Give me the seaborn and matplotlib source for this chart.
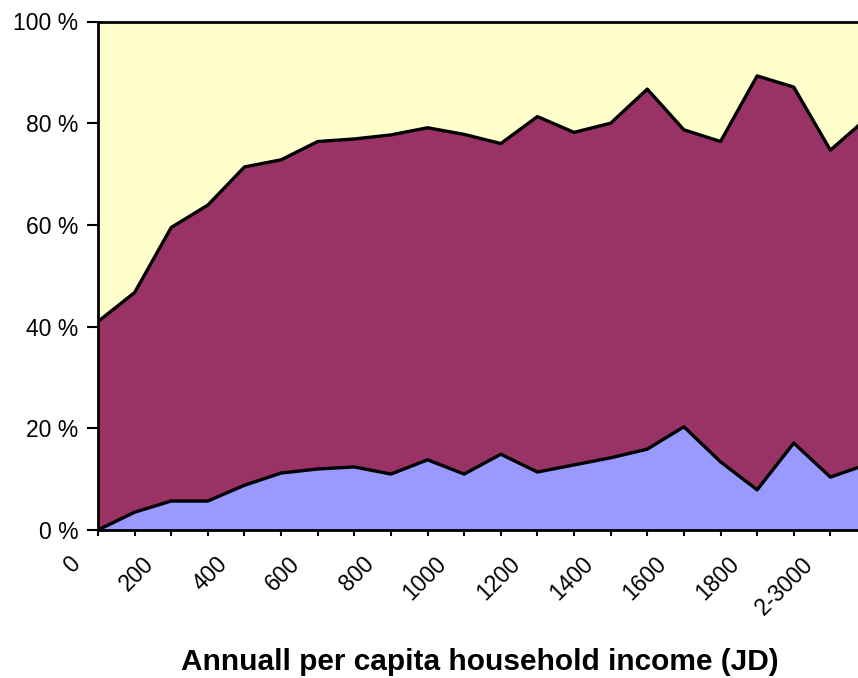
import numpy as np
import pandas as pd
import matplotlib
matplotlib.use("Agg")
import matplotlib.pyplot as plt
import matplotlib.transforms as mtransforms
import seaborn as sns

# Category labels (every 100 JD); last one is cropped off the right edge
categories = ["0", "100", "200", "300", "400", "500", "600", "700", "800", "900",
              "1000", "1100", "1200", "1300", "1400", "1500", "1600", "1700",
              "1800", "1900", "2-3000", ">3000"]
tick_labels_shown = ["0", "200", "400", "600", "800", "1000", "1200", "1400",
                     "1600", "1800", "2-3000"]

# Shares (%) of the three groups, bottom to top
blue_share = [0.0, 3.5, 5.7, 5.7, 8.8, 11.2, 12.0, 12.4, 11.0, 13.8, 11.0,
              14.9, 11.4, 12.8, 14.2, 15.9, 20.3, 13.4, 7.9, 17.1, 10.4, 12.9]
upper_boundary = [41.0, 46.7, 59.5, 63.9, 71.4, 72.8, 76.4, 76.9, 77.7, 79.1, 77.8,
                  76.0, 81.3, 78.2, 80.0, 86.7, 78.7, 76.4, 89.3, 87.1, 74.7, 81.0]
purple_share = [u - b for u, b in zip(upper_boundary, blue_share)]
yellow_share = [100.0 - u for u in upper_boundary]

sns.set_style("white")
plt.rcParams["font.family"] = ["Liberation Sans", "DejaVu Sans"]
plt.rcParams["text.color"] = "black"
plt.rcParams["xtick.color"] = "black"
plt.rcParams["ytick.color"] = "black"

fig = plt.figure(figsize=(8.58, 6.78), dpi=100)
ax = fig.add_axes([98 / 858, 1 - 530 / 678, (867 - 98) / 858, (530 - 21.5) / 678])

x = np.arange(len(categories))
df = pd.DataFrame({"idx": x, "blue": blue_share, "purple": purple_share,
                   "yellow": yellow_share})
df["b1"] = df["blue"]
df["b2"] = df["blue"] + df["purple"]
df["b3"] = df["b2"] + df["yellow"]

ax.fill_between(df["idx"], 0, df["b1"], color="#9999FF", lw=0)
ax.fill_between(df["idx"], df["b1"], df["b2"], color="#993366", lw=0)
ax.fill_between(df["idx"], df["b2"], df["b3"], color="#FFFFCC", lw=0)

for col in ["b1", "b2"]:
    sns.lineplot(data=df, x="idx", y=col, ax=ax, color="black", lw=2.4,
                 legend=False, zorder=5)

ax.set_xlim(0, len(categories) - 1)
ax.set_ylim(0, 100)

ax.tick_params(axis="y", direction="out", length=8, width=1.5, color="black",
               left=True, pad=6)
ax.tick_params(axis="x", direction="out", length=4.5, width=1.5, color="black",
               bottom=True, pad=4)

ax.set_yticks([0, 20, 40, 60, 80, 100])
ax.set_yticklabels([f"{v} %" for v in [0, 20, 40, 60, 80, 100]], fontsize=16.5)

ax.set_xticks(x)
lbls = [c if c in tick_labels_shown else "" for c in categories]
ax.set_xticklabels(lbls, rotation=45, ha="right", va="center",
                   rotation_mode="anchor", fontsize=16.5)
offset = mtransforms.ScaledTranslation(-0.21, -0.19, fig.dpi_scale_trans)
for lab in ax.get_xticklabels():
    lab.set_transform(lab.get_transform() + offset)

for s in ax.spines.values():
    s.set_color("black")
    s.set_linewidth(2)
    s.set_zorder(6)

ax.set_xlabel("")
ax.set_ylabel("")
fig.text(480 / 858, 1 - 662 / 678,
         "Annuall per capita household income (JD)",
         ha="center", va="center", fontsize=21.5, fontweight="bold")

fig.savefig("out.png", dpi=100)
